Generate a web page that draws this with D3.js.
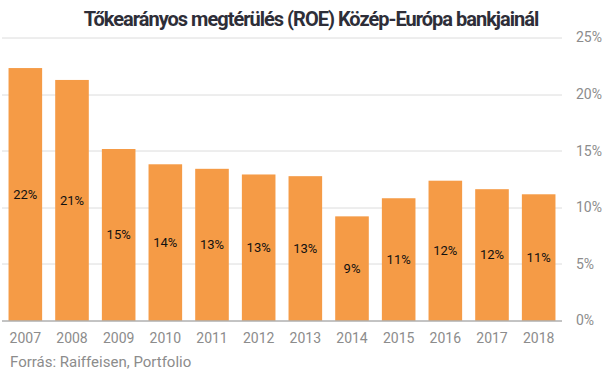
<!DOCTYPE html>
<html>
<head>
<meta charset="utf-8">
<script src="https://cdn.jsdelivr.net/npm/d3@7"></script>
<style>
  body { margin: 0; background: #fff; }
  text { font-family: Roboto, sans-serif; }
</style>
</head>
<body>
<svg id="chart"></svg>
<script>
const years = ['2007', '2008', '2009', '2010', '2011', '2012', '2013', '2014', '2015', '2016', '2017', '2018'];
const roe = [22.3, 21.25, 15.15, 13.8, 13.4, 12.9, 12.75, 9.2, 10.8, 12.35, 11.6, 11.15];
const yTicks = [0, 5, 10, 15, 20, 25];

const width = 606, height = 374;
const margin = {top: 37.5, right: 44, bottom: 53.5, left: 2};

const svg = d3.select('#chart')
    .attr('width', width)
    .attr('height', height);

const innerW = width - margin.left - margin.right;
const innerH = height - margin.top - margin.bottom;

const chart = svg.append('g')
    .attr('transform', `translate(${margin.left}, ${margin.top})`);

const x = d3.scaleBand()
    .domain(years)
    .range([0, innerW])
    .paddingInner(0.28)
    .paddingOuter(0.14);

const y = d3.scaleLinear()
    .domain([0, 25])
    .range([innerH, 0]);

// gridlines
chart.append('g')
    .selectAll('line')
    .data(yTicks.filter(d => d > 0))
    .join('line')
    .attr('x1', 0)
    .attr('x2', innerW)
    .attr('y1', d => Math.round(y(d)) + 0.5)
    .attr('y2', d => Math.round(y(d)) + 0.5)
    .attr('stroke', '#dcdcdc')
    .attr('stroke-width', 1);

// bars
chart.append('g')
    .selectAll('rect')
    .data(roe)
    .join('rect')
    .attr('x', (d, i) => x(years[i]))
    .attr('y', d => y(d))
    .attr('width', x.bandwidth())
    .attr('height', d => innerH - y(d))
    .attr('fill', '#f59b46');

// value labels
chart.append('g')
    .selectAll('text')
    .data(roe)
    .join('text')
    .attr('x', (d, i) => x(years[i]) + x.bandwidth() / 2)
    .attr('y', d => (y(d) + innerH) / 2)
    .attr('dy', '0.35em')
    .attr('text-anchor', 'middle')
    .style('font-size', '13px')
    .attr('fill', '#111')
    .text(d => Math.round(d) + '%');

// baseline
chart.append('line')
    .attr('x1', 0)
    .attr('x2', innerW)
    .attr('y1', innerH + 0.5)
    .attr('y2', innerH + 0.5)
    .attr('stroke', '#888')
    .attr('stroke-width', 1);

// y axis on the right
const yAxis = d3.axisRight(y)
    .tickValues(yTicks)
    .tickSize(0)
    .tickPadding(14)
    .tickFormat(d => d + '%');

chart.append('g')
    .attr('transform', `translate(${innerW}, 0)`)
    .call(yAxis)
    .call(g => g.select('.domain').remove())
    .call(g => g.selectAll('text')
        .style('font-size', '14px')
        .style('font-family', 'Roboto, sans-serif')
        .attr('fill', '#8c8c8c'));

// x axis
const xAxis = d3.axisBottom(x)
    .tickSize(0)
    .tickPadding(13);

chart.append('g')
    .attr('transform', `translate(0, ${innerH})`)
    .call(xAxis)
    .call(g => g.select('.domain').remove())
    .call(g => g.selectAll('text')
        .style('font-size', '14px')
        .style('font-family', 'Roboto, sans-serif')
        .attr('fill', '#8c8c8c'));

// title
svg.append('text')
    .attr('x', 311)
    .attr('y', 26)
    .attr('text-anchor', 'middle')
    .style('font-size', '20px')
    .style('font-weight', 700)
    .style('letter-spacing', '-1px')
    .attr('fill', '#2e2e38')
    .text('Tőkearányos megtérülés (ROE) Közép-Európa bankjainál');

// source
svg.append('text')
    .attr('x', 10)
    .attr('y', 367)
    .style('font-size', '15px')
    .attr('fill', '#8c8c8c')
    .text('Forrás: Raiffeisen, Portfolio');
</script>
</body>
</html>
